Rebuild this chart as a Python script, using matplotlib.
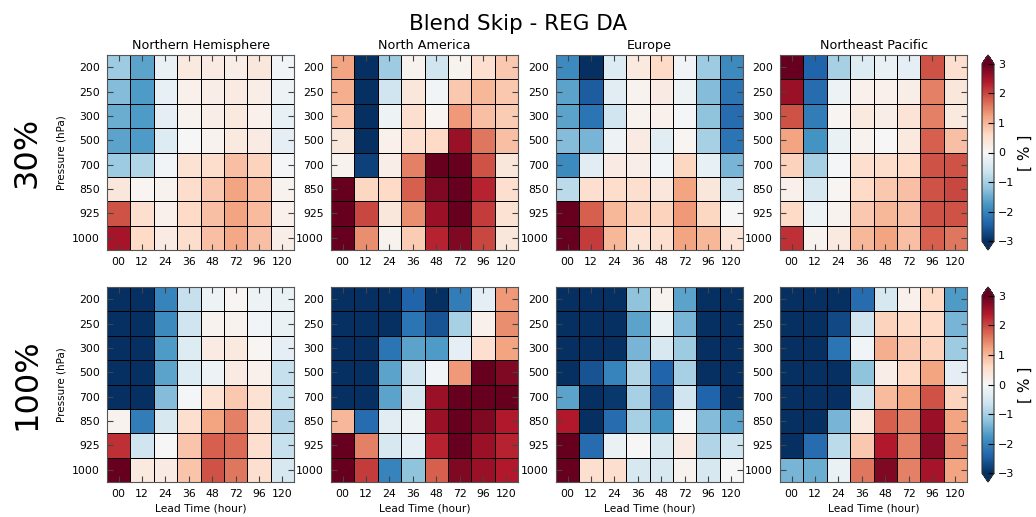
import matplotlib
matplotlib.use('Agg')
import matplotlib.pyplot as plt
import numpy as np

levels = ['200', '250', '300', '500', '700', '850', '925', '1000']
leads = ['00', '12', '24', '36', '48', '72', '96', '120']
regions = ['Northern Hemisphere', 'North America', 'Europe', 'Northeast Pacific']
row_labels = ['30%', '100%']

# 30% skip, values in %, rows = pressure levels, cols = lead times
nh_30 = [[-1.1, -1.6, -0.2, 0.3, 0.25, 0.2, 0.35, -0.1],
         [-1.3, -1.7, -0.25, 0.15, 0.2, 0.25, 0.2, -0.15],
         [-1.5, -1.7, -0.3, 0.1, 0.2, 0.3, 0.15, -0.25],
         [-1.6, -1.7, -0.4, 0.0, 0.1, 0.3, 0.25, -0.3],
         [-1.1, -0.9, -0.1, 0.45, 0.55, 0.9, 0.7, -0.05],
         [0.35, 0.05, 0.1, 0.55, 0.8, 1.2, 0.95, 0.1],
         [1.9, 0.5, 0.15, 0.6, 0.9, 1.2, 0.95, 0.15],
         [2.5, 0.6, 0.25, 0.55, 0.9, 1.15, 0.9, 0.2]]
na_30 = [[1.2, -3.2, -1.1, 0.1, -0.6, 0.1, 0.5, 0.8],
         [1.1, -3.2, -0.6, 0.35, -0.1, 0.8, 1.0, 0.8],
         [0.85, -3.2, -0.15, 0.5, 0.05, 1.3, 0.9, 0.75],
         [0.35, -3.2, 0.15, 0.5, 0.6, 2.6, 1.6, 0.9],
         [0.1, -2.8, 0.2, 1.5, 3.2, 3.3, 1.9, 0.35],
         [3.3, 0.65, 0.6, 1.8, 2.8, 3.2, 2.3, 0.5],
         [3.3, 2.0, 0.35, 1.4, 2.6, 3.3, 2.1, 0.45],
         [3.3, 1.4, 0.1, 0.75, 2.3, 2.8, 2.0, 0.35]]
eu_30 = [[-1.9, -3.1, -0.4, 0.3, 0.6, -0.1, -1.1, -1.9],
         [-1.6, -2.5, -0.35, 0.1, 0.25, -0.15, -1.3, -2.2],
         [-1.6, -2.2, -0.6, 0.1, 0.15, -0.05, -1.2, -2.3],
         [-1.3, -1.4, -0.15, 0.25, -0.35, 0.05, -1.0, -2.2],
         [-1.9, -0.35, 0.25, 0.2, -0.1, 0.65, -0.25, -1.4],
         [-0.8, 0.5, 0.55, 0.5, 0.35, 1.2, 0.35, -0.6],
         [3.3, 1.8, 1.0, 0.7, 0.7, 1.3, 0.65, 0.0],
         [3.3, 2.1, 1.0, 0.4, 0.5, 1.2, 1.0, 0.4]]
nep_30 = [[3.2, -2.4, -1.0, -0.4, -0.2, -0.3, 1.9, 0.5],
          [2.6, -2.3, -0.15, 0.15, 0.15, 0.2, 1.5, 0.35],
          [1.9, -2.1, 0.05, 0.3, 0.2, 0.4, 1.5, 0.3],
          [1.2, -1.8, -0.2, 0.1, 0.0, 0.3, 1.8, 0.9],
          [0.7, -1.0, -0.05, 0.5, 0.55, 0.6, 1.9, 1.9],
          [0.15, -0.5, 0.05, 0.6, 0.8, 0.9, 1.9, 2.0],
          [0.6, -0.15, 0.1, 0.8, 1.0, 0.9, 1.9, 1.9],
          [2.2, 0.1, 0.3, 1.0, 1.2, 0.9, 1.8, 1.6]]

# 100% skip
nh_100 = [[-3.3, -3.3, -2.0, -0.7, -0.15, 0.05, -0.15, -0.2],
          [-3.3, -3.3, -1.9, -0.6, 0.1, 0.1, -0.1, -0.2],
          [-3.3, -3.3, -1.7, -0.4, 0.25, 0.3, 0.05, -0.3],
          [-3.3, -3.3, -1.6, -0.4, -0.15, 0.25, 0.15, -0.7],
          [-3.3, -3.3, -1.3, -0.05, 0.45, 0.8, 0.45, -0.7],
          [0.1, -2.1, -0.5, 0.5, 1.2, 1.5, 0.5, -0.9],
          [2.2, -0.6, 0.0, 0.85, 1.8, 1.7, 0.5, -0.7],
          [3.3, 0.3, 0.25, 0.85, 1.9, 1.6, 0.5, -0.5]]
na_100 = [[-3.3, -3.2, -3.1, -2.4, -3.1, -2.1, -0.3, 1.3],
          [-3.3, -3.2, -3.1, -2.2, -2.6, -1.0, 0.15, 1.4],
          [-3.3, -3.2, -2.2, -1.6, -1.7, -0.3, 0.5, 1.2],
          [-3.3, -3.2, -1.6, -0.6, -0.1, 1.3, 3.3, 2.8],
          [-3.3, -3.2, -1.6, -0.5, 2.6, 3.3, 3.3, 3.0],
          [1.0, -2.3, -0.35, -0.15, 2.6, 3.3, 2.8, 2.4],
          [3.3, 1.5, -0.5, -0.3, 2.3, 3.3, 2.6, 2.3],
          [3.3, 2.1, -2.0, -1.2, 1.8, 2.8, 2.6, 2.4]]
eu_100 = [[-3.3, -3.3, -3.3, -1.2, 0.1, -1.6, -3.3, -3.3],
          [-3.3, -3.3, -3.3, -1.6, -0.2, -1.4, -3.3, -3.3],
          [-3.3, -3.3, -3.3, -1.4, -0.5, -1.1, -3.3, -3.3],
          [-3.3, -2.6, -2.0, -0.9, -2.4, -1.0, -3.3, -3.3],
          [-1.6, -3.2, -2.9, -1.0, -2.6, -0.6, -2.4, -3.2],
          [2.4, -3.2, -2.3, -1.0, -1.8, 0.0, -1.3, -1.6],
          [3.3, -2.3, -0.2, 0.0, -0.5, 0.25, -0.9, -0.6],
          [3.3, 0.5, 0.5, -0.5, -0.5, 0.1, -0.5, 0.0]]
nep_100 = [[-3.3, -3.2, -3.0, -2.3, -0.5, 0.15, 0.6, -1.7],
           [-3.3, -3.1, -2.7, -0.6, 0.7, 0.6, 0.6, -1.4],
           [-3.2, -3.1, -2.2, -0.1, 1.1, 0.8, 0.7, -1.1],
           [-3.2, -3.1, -3.1, -1.2, 0.2, 0.6, 1.2, -0.3],
           [-3.2, -3.1, -3.0, -0.6, 0.95, 1.2, 1.9, 0.7],
           [-3.2, -3.1, -1.4, 0.3, 1.8, 1.5, 2.6, 1.2],
           [-3.2, -2.3, -0.8, 0.8, 2.4, 1.5, 2.7, 1.4],
           [-1.4, -1.5, -0.2, 1.6, 2.8, 1.5, 2.5, 1.2]]

grid = [[nh_30, na_30, eu_30, nep_30],
        [nh_100, na_100, eu_100, nep_100]]

W, H = 1036, 517
fig = plt.figure(figsize=(W / 100, H / 100), dpi=100)

lefts = [107, 331, 556, 780]
tops = [55, 287]
pw, ph = 187, 195

for r in range(2):
    for c in range(4):
        ax = fig.add_axes([lefts[c] / W, 1 - (tops[r] + ph) / H, pw / W, ph / H])
        data = np.array(grid[r][c])
        mesh = ax.pcolormesh(data, cmap='RdBu_r', vmin=-3, vmax=3,
                             edgecolors='k', linewidth=0.6)
        ax.set_xlim(0, 8)
        ax.set_ylim(8, 0)
        ax.set_xticks(np.arange(8) + 0.5)
        ax.set_xticklabels(leads)
        ax.set_yticks(np.arange(8) + 0.5)
        ax.set_yticklabels(levels)
        ax.tick_params(direction='in', top=True, right=True, length=4,
                       labelsize=7.8, pad=5, color='#444444')
        for s in ax.spines.values():
            s.set_color('#555555')
        if r == 0:
            ax.set_title(regions[c], fontsize=9.2, pad=4)
        if r == 1:
            ax.set_xlabel('Lead Time (hour)', fontsize=7.7, labelpad=3)
        if c == 0:
            ax.set_ylabel('Pressure (hPa)', fontsize=7.5, labelpad=4)
            fig.text(27 / W, 1 - (tops[r] + ph / 2) / H, row_labels[r],
                     fontsize=23, rotation=90, ha='center', va='center')

    cax = fig.add_axes([982 / W, 1 - (tops[r] + ph) / H, 12 / W, ph / H])
    cb = fig.colorbar(mesh, cax=cax, extend='both', ticks=[-3, -2, -1, 0, 1, 2, 3])
    cb.ax.tick_params(direction='in', length=4, labelsize=8, pad=3)
    cb.outline.set_edgecolor('#333333')
    cb.set_label('[ % ]', fontsize=11, labelpad=2)

fig.suptitle('Blend Skip - REG DA', fontsize=15.5, y=0.972)
fig.savefig('out.png', dpi=100)
